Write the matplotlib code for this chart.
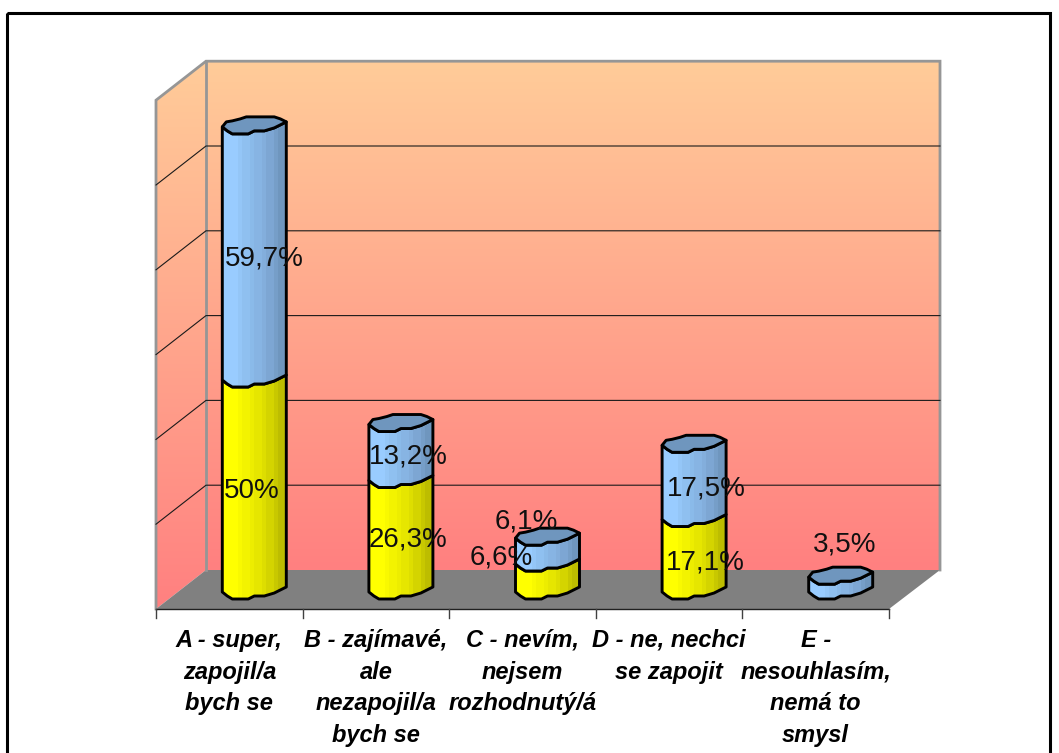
import numpy as np
import matplotlib
matplotlib.use("Agg")
import matplotlib.pyplot as plt
from matplotlib.colors import LinearSegmentedColormap
from matplotlib.patches import Polygon, Rectangle

categories = ["A - super,\nzapojil/a\nbych se",
              "B - zajímavé,\nale\nnezapojil/a\nbych se",
              "C - nevím,\nnejsem\nrozhodnutý/á",
              "D - ne, nechci\nse zapojit",
              "E -\nnesouhlasím,\nnemá to\nsmysl"]
yellow_values = [50.0, 26.3, 6.6, 17.1, 0.0]
blue_values = [59.7, 13.2, 6.1, 17.5, 3.5]
yellow_labels = ["50%", "26,3%", "6,6%", "17,1%", None]
blue_labels = ["59,7%", "13,2%", "6,1%", "17,5%", "3,5%"]
grid_values = [20, 40, 60, 80, 100]

# layout (pixels)
W, H = 1059, 753
FX0, FX1, FY = 156.0, 889.0, 609.0
DX, DY = 50.0, 39.0
PX = 4.24
TOPV = 120
n = len(categories)
STEP = (FX1 - FX0) / n

front = [(-32, 1), (-27, 5), (-22, 8), (-6, 8), (0, 5), (10, 5), (20, 2), (32, -4)]
back = [(32, -4), (26, -7), (20, -9), (-8, -9), (-14, -7), (-22, -5), (-28, -4), (-32, 1)]

# label offsets from segment centre (px)
y_off = [(-3, 6), (7, 4), (-46, -20), (11, 8), (0, 0)]
b_off = [(10, 6), (7, 5), (-21, -29), (12, 7), (4, -39)]

fig = plt.figure(figsize=(W / 100, H / 100), dpi=100, facecolor="white")
ax = fig.add_axes([0, 0, 1, 1])
ax.set_axis_off()

wy = lambda v: FY - DY - v * PX
wall_top = wy(TOPV)
wall_bot = wy(0)

wall_cmap = LinearSegmentedColormap.from_list("w", ["#FFCC99", "#FF8080"])
grad = np.linspace(0, 1, 256).reshape(-1, 1)
wall_poly = Polygon([(FX0 + DX, wall_top), (FX1 + DX + 1, wall_top), (FX1 + DX + 1, wall_bot), (FX0 + DX, wall_bot)],
                    closed=True, fc="none", ec="none", transform=ax.transData)
side_poly = Polygon([(FX0, wall_top + DY), (FX0 + DX, wall_top), (FX0 + DX, wall_bot), (FX0, FY)],
                    closed=True, fc="none", ec="none", transform=ax.transData)
ax.add_patch(wall_poly)
ax.add_patch(side_poly)
im = ax.imshow(grad, cmap=wall_cmap, extent=(FX0 + DX, FX1 + DX + 1, wall_bot, wall_top), aspect="auto", zorder=1)
im.set_clip_path(wall_poly)
im2 = ax.imshow(grad, cmap=wall_cmap, extent=(FX0, FX0 + DX, FY, wall_top), aspect="auto", zorder=1)
im2.set_clip_path(side_poly)

# floor
ax.add_patch(Polygon([(FX0, FY), (FX1, FY), (FX1 + DX + 1, wall_bot), (FX0 + DX, wall_bot)],
                     closed=True, fc="#808080", ec="none", zorder=2))
# wall frame
GR = "#969696"
ax.plot([FX0, FX0, FX0 + DX, FX1 + DX + 1, FX1 + DX + 1], [FY, wall_top + DY, wall_top, wall_top, wall_bot],
        color=GR, lw=2.0, zorder=3, solid_joinstyle="miter")
ax.plot([FX0 + DX, FX0 + DX], [wall_top, wall_bot], color=GR, lw=2.0, zorder=3)

# grid
for v in grid_values:
    y = wy(v)
    ax.plot([FX0, FX0 + DX, FX1 + DX + 1], [y + DY, y, y], color="#1a1a1a", lw=0.8, zorder=3)

# axis
ax.plot([FX0, FX1], [FY, FY], color="#202020", lw=1.0, zorder=4)
for i in range(n + 1):
    x = FX0 + i * STEP
    ax.plot([x, x], [FY, FY + 9], color="#404040", lw=1.0, zorder=4)

yellow_cmap = LinearSegmentedColormap.from_list("y", ["#FFFF00", "#F0F000", "#DCDC00", "#BDBD00"], N=9)
blue_cmap = LinearSegmentedColormap.from_list("b", ["#99CCFF", "#8CBCEC", "#82ACDA", "#6F96BE"], N=9)
xgrad = np.r_[0.05, 0.05, np.linspace(0, 1, 14)].reshape(1, -1)


def segment(cx, y0, y1, cmap, z):
    pts = [(cx + a, y0 + b) for a, b in front] + [(cx + a, y1 + b) for a, b in front[::-1]]
    poly = Polygon(pts, closed=True, fc="none", ec="none")
    ax.add_patch(poly)
    g = ax.imshow(xgrad, cmap=cmap, vmin=0, vmax=1, extent=(cx - 32, cx + 32, y0 + 10, y1 - 10), aspect="auto", zorder=z)
    g.set_clip_path(poly)
    ax.add_patch(Polygon(pts, closed=True, fc="none", ec="black", lw=2.1, zorder=z + 0.1, joinstyle="round"))


base_y = FY - DY / 2 + 1.5
for i in range(n):
    cx = FX0 + (i + 0.5) * STEP + DX / 2
    y0 = base_y
    y1 = y0 - yellow_values[i] * PX
    y2 = y1 - blue_values[i] * PX
    if yellow_values[i] > 0:
        segment(cx, y0, y1, yellow_cmap, 5)
    segment(cx, y1, y2, blue_cmap, 5.2)
    ax.add_patch(Polygon([(cx + a, y2 + b) for a, b in front + back], closed=True,
                         fc="#6F96BE", ec="black", lw=2.1, zorder=5.5, joinstyle="round"))
    if yellow_labels[i]:
        ax.text(cx + y_off[i][0], (y0 + y1) / 2 + y_off[i][1], yellow_labels[i], ha="center", va="center",
                fontsize=20, family="Liberation Sans", color="#101010", zorder=8)
    ax.text(cx + b_off[i][0], (y1 + y2) / 2 + b_off[i][1], blue_labels[i], ha="center", va="center",
            fontsize=20, family="Liberation Sans", color="#101010", zorder=8)
    ax.text(FX0 + (i + 0.5) * STEP, 629, categories[i], ha="center", va="top", fontsize=17,
            family="Liberation Sans", weight="bold", style="italic", linespacing=1.48, color="black", zorder=8)

# outer frame
ax.add_patch(Rectangle((7, 13), 1043, 760, fc="none", ec="black", lw=2.2, zorder=10))

ax.set_xlim(0, W)
ax.set_ylim(H, 0)
fig.savefig("out.png", dpi=100, facecolor="white")
